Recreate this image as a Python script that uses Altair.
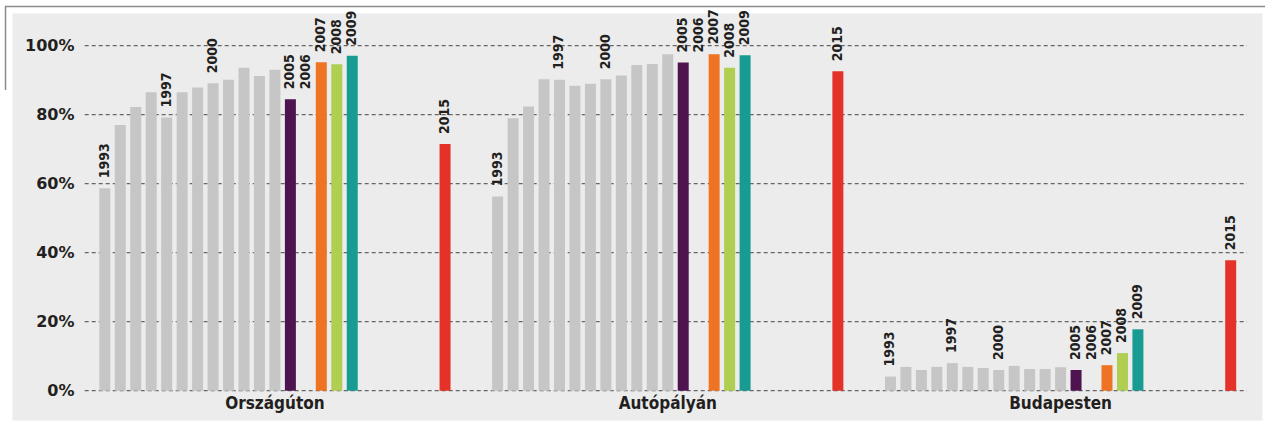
import altair as alt
import pandas as pd

# Share of belt use (%) by year, three road categories
years = [1993, 1994, 1995, 1996, 1997, 1998, 1999, 2000, 2001, 2002, 2003,
         2004, 2005, 2006, 2007, 2008, 2009, 2015]
groups = ["Országúton", "Autópályán", "Budapesten"]
orszaguton = [58.7, 77.0, 82.2, 86.5, 79.2, 86.5, 87.9, 89.1, 90.1, 93.6, 91.2,
              93.0, 84.5, None, 95.2, 94.6, 97.1, 71.5]
autopalyan = [56.3, 79.0, 82.4, 90.3, 90.1, 88.4, 89.0, 90.3, 91.4, 94.4, 94.7,
              97.5, 95.1, None, 97.5, 93.6, 97.2, 92.6]
budapesten = [4.1, 6.9, 6.0, 6.9, 8.0, 6.9, 6.6, 6.0, 7.2, 6.3, 6.3,
              6.8, 6.0, None, 7.4, 10.9, 17.8, 37.8]
labelled_years = [1993, 1997, 2000, 2005, 2006, 2007, 2008, 2009, 2015]
y_ticks = [0, 20, 40, 60, 80, 100]
y_tick_labels = ["0%", "20%", "40%", "60%", "80%", "100%"]

# layout: each group occupies a block of GROUP_STEP year-slots
GROUP_STEP = 25.4
first_year = years[0]

kind_order = ["base", "2005", "2007", "2008", "2009", "2015"]
kind_colors = ["#c6c6c6", "#4e1450", "#ee7424", "#afce52", "#189b92", "#e53229"]


def kind_of(yr):
    return str(yr) if str(yr) in kind_order else "base"


rows = []
for gi, (g, vals) in enumerate(zip(groups, [orszaguton, autopalyan, budapesten])):
    prev = None
    for yr, v in zip(years, vals):
        rows.append(dict(
            group=g, year=str(yr), value=v,
            pos=gi * GROUP_STEP + (yr - first_year),
            label_y=v if v is not None else prev,
            labelled=yr in labelled_years,
            kind=kind_of(yr),
        ))
        if v is not None:
            prev = v
bars_df = pd.DataFrame(rows)

span = years[-1] - first_year
last_pos = (len(groups) - 1) * GROUP_STEP + span
grid_df = pd.DataFrame({
    "v": y_ticks,
    "label": y_tick_labels,
    "lo": [-1.3] * len(y_ticks),
    "hi": [last_pos + 1.05] * len(y_ticks),
    "lab_x": [-1.96] * len(y_ticks),
})

group_df = pd.DataFrame({
    "group": groups,
    "pos": [gi * GROUP_STEP + span / 2 for gi in range(len(groups))],
    "y": [-3.86] * len(groups),
})

xs = alt.Scale(domain=[-5.677, 74.50], nice=False, zero=False)
ys = alt.Scale(domain=[-8.49, 109.48], nice=False, zero=False)

NARROW = "Liberation Sans Narrow, DejaVu Sans Condensed, sans-serif"
INK = "#231f20"

grid = alt.Chart(grid_df).mark_rule(
    color="#666666", strokeWidth=1.3, strokeDash=[4, 3]
).encode(
    x=alt.X("lo:Q", scale=xs, axis=None),
    x2="hi:Q",
    y=alt.Y("v:Q", scale=ys, axis=None),
)

y_labels = alt.Chart(grid_df).mark_text(
    align="right", baseline="middle", font="DejaVu Sans",
    fontSize=16, fontWeight="bold", color=INK
).encode(
    x=alt.X("lab_x:Q", scale=xs, axis=None),
    y=alt.Y("v:Q", scale=ys, axis=None),
    text="label:N",
)

bars = alt.Chart(bars_df).transform_filter(
    "isValid(datum.value)"
).mark_bar(size=11).encode(
    x=alt.X("pos:Q", scale=xs, axis=None),
    y=alt.Y("value:Q", scale=ys, axis=None),
    y2=alt.datum(0),
    color=alt.Color("kind:N", scale=alt.Scale(domain=kind_order, range=kind_colors),
                    legend=None),
)

year_labels = alt.Chart(bars_df).transform_filter(
    "datum.labelled"
).mark_text(
    angle=270, align="left", baseline="middle", dx=10,
    font=NARROW, fontSize=14, fontWeight="bold", color=INK
).encode(
    x=alt.X("pos:Q", scale=xs, axis=None),
    y=alt.Y("label_y:Q", scale=ys, axis=None),
    text="year:N",
)

group_labels = alt.Chart(group_df).mark_text(
    align="center", baseline="middle", font=NARROW,
    fontSize=17, fontWeight="bold", color=INK
).encode(
    x=alt.X("pos:Q", scale=xs, axis=None),
    y=alt.Y("y:Q", scale=ys, axis=None),
    text="group:N",
)

# thin outer frame lines above and left of the panel
frame_top = alt.Chart().mark_rule(color="#8a8a8a", strokeWidth=1.5).encode(
    x=alt.value(-7), x2=alt.value(1253), y=alt.value(-6.5)
)
frame_left = alt.Chart().mark_rule(color="#8a8a8a", strokeWidth=1.5).encode(
    x=alt.value(-6.5), y=alt.value(-6.5), y2=alt.value(77)
)

chart = alt.layer(
    grid, bars, year_labels, y_labels, group_labels, frame_top, frame_left
).properties(
    width=1250, height=407,
    padding={"left": 12, "top": 13, "right": 3, "bottom": 4},
    autosize=alt.AutoSizeParams(type="none"),
    background="#ffffff",
).configure_view(
    fill="#ececec", stroke="transparent"
)

chart.save("out.html", embed_options={"renderer": "svg", "actions": False})
